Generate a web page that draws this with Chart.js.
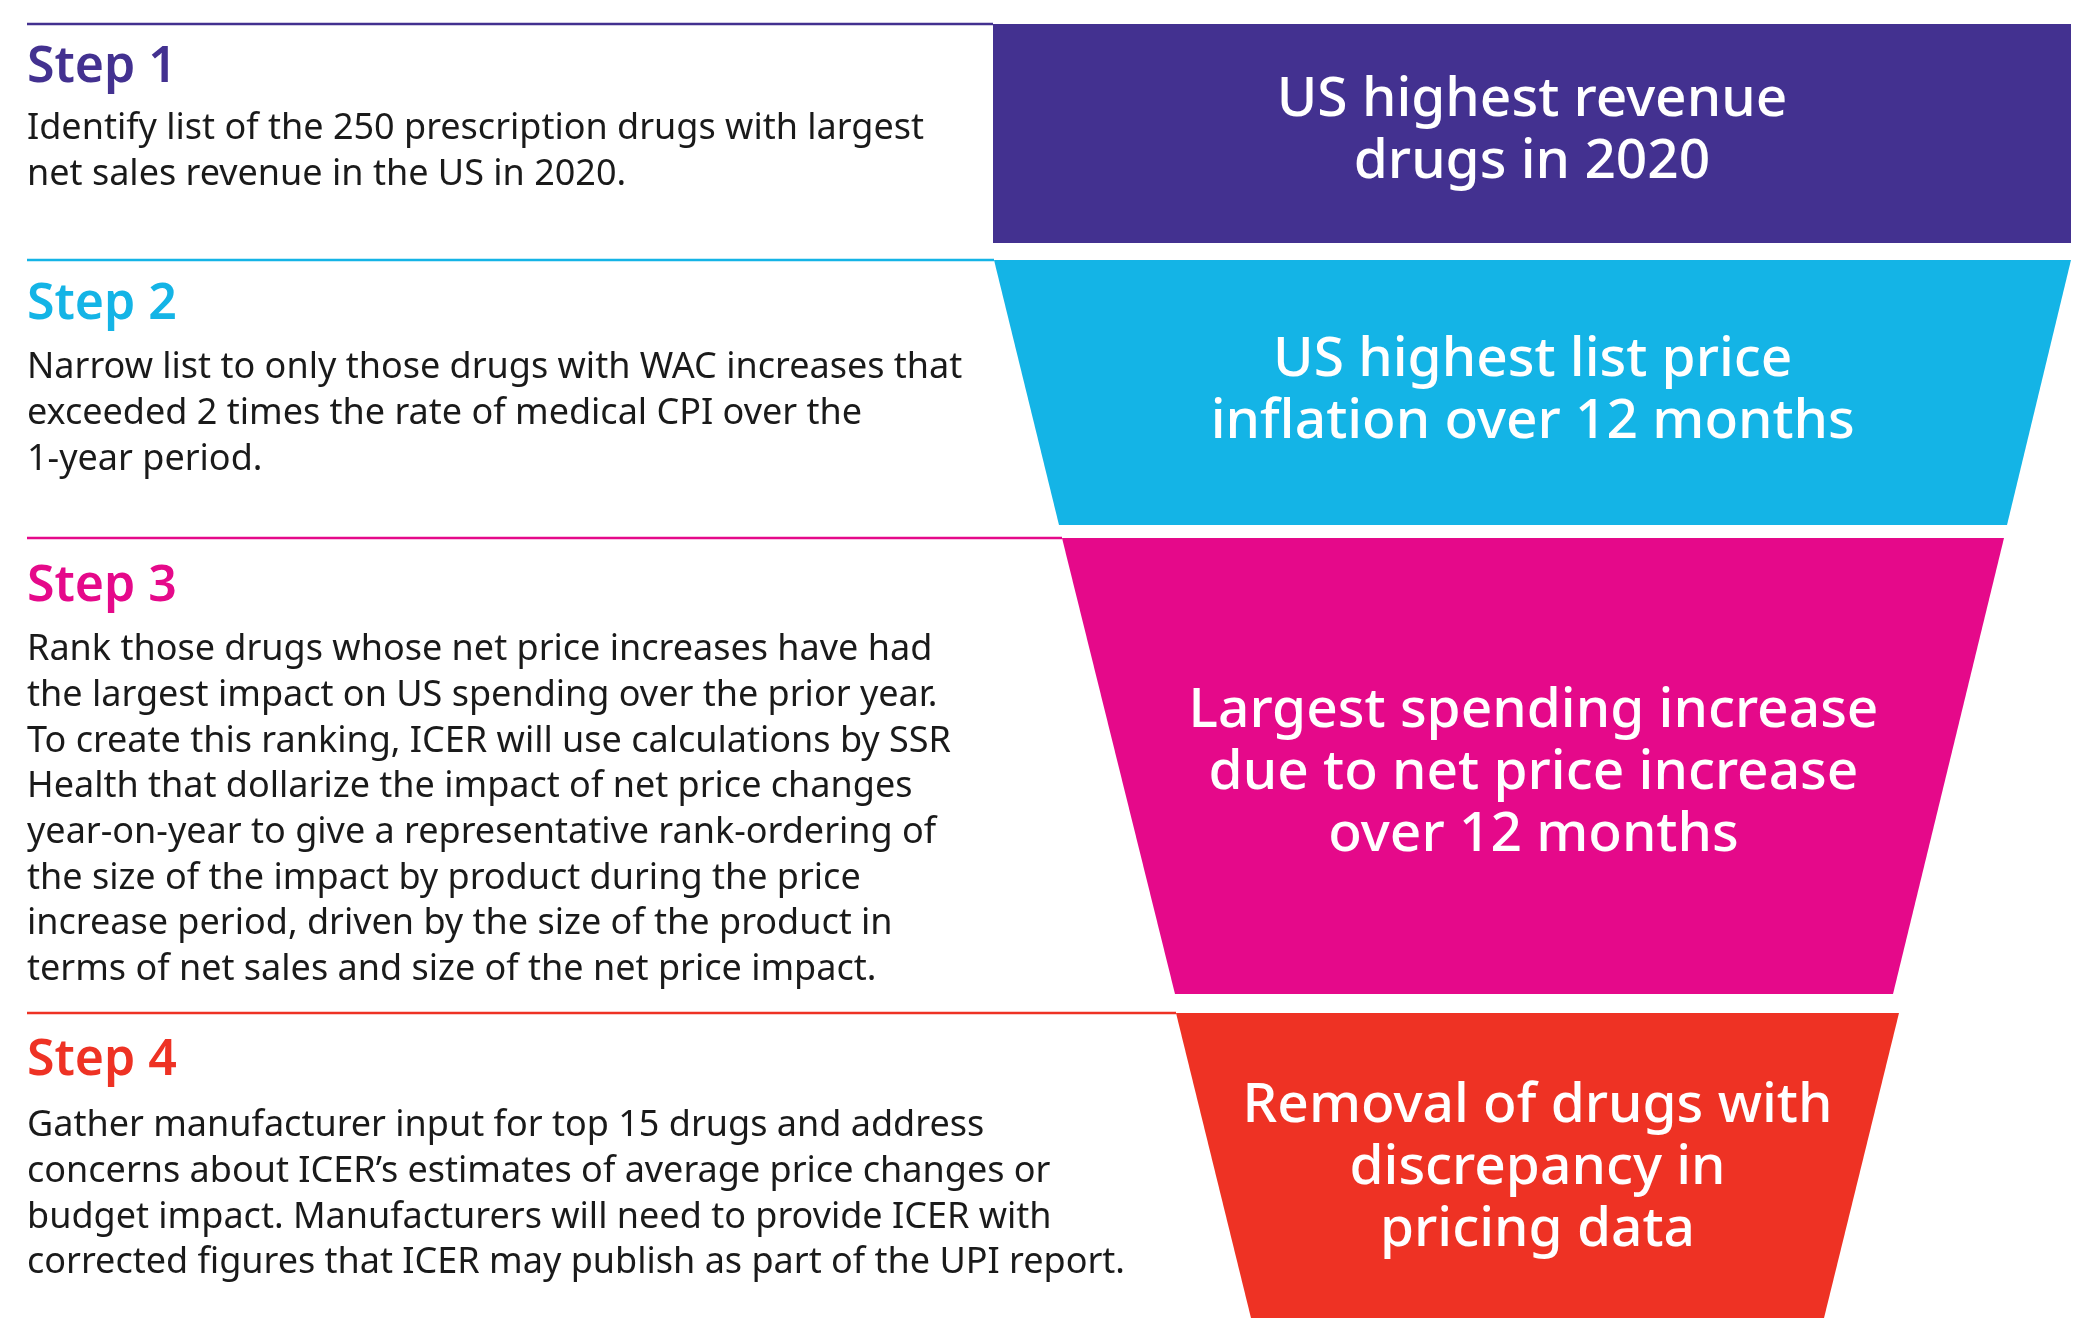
<!DOCTYPE html>
<html>
<head>
<meta charset="utf-8">
<script src="https://cdn.jsdelivr.net/npm/chart.js@4"></script>
<style>
  html, body { margin: 0; padding: 0; background: #fff; }
  #wrap { width: 2084px; height: 1342px; }
</style>
</head>
<body>
<div id="wrap"><canvas id="funnel"></canvas></div>
<script>
// funnel steps, in picture units (x 0-2084, y 0-1342 from top)
const stepNames = ['Step 1', 'Step 2', 'Step 3', 'Step 4'];
const stepColors = ['#433190', '#14b4e6', '#e5098a', '#ee3224'];
const stepTop = [24, 260, 538, 1013];
const stepBottom = [243, 525, 994, 1318];
const topLeft = [993, 994, 1062, 1176];
const topRight = [2071, 2071, 2004, 1899];
const bottomLeft = [993, 1059, 1175, 1251];
const bottomRight = [2071, 2007, 1893, 1824];

const funnelLabels = [
    ['US highest revenue', 'drugs in 2020'],
    ['US highest list price', 'inflation over 12 months'],
    ['Largest spending increase', 'due to net price increase', 'over 12 months'],
    ['Removal of drugs with', 'discrepancy in', 'pricing data']
];
const funnelTextY = [100, 360, 711, 1106];

const stepText = [
    ['Identify list of the 250 prescription drugs with largest',
     'net sales revenue in the US in 2020.'],
    ['Narrow list to only those drugs with WAC increases that',
     'exceeded 2 times the rate of medical CPI over the',
     '1-year period.'],
    ['Rank those drugs whose net price increases have had',
     'the largest impact on US spending over the prior year.',
     'To create this ranking, ICER will use calculations by SSR',
     'Health that dollarize the impact of net price changes',
     'year-on-year to give a representative rank-ordering of',
     'the size of the impact by product during the price',
     'increase period, driven by the size of the product in',
     'terms of net sales and size of the net price impact.'],
    ['Gather manufacturer input for top 15 drugs and address',
     'concerns about ICER\u2019s estimates of average price changes or',
     'budget impact. Manufacturers will need to provide ICER with',
     'corrected figures that ICER may publish as part of the UPI report.']
];
const headingY = [68, 305, 587, 1061];
const bodyY = [129, 368, 650, 1126];

const funnelPlugin = {
    id: 'funnel',
    afterDatasetsDraw(chart) {
        const ctx = chart.ctx;
        const xs = chart.scales.x, ys = chart.scales.y;
        const px = v => xs.getPixelForValue(v);
        const py = v => ys.getPixelForValue(v);
        ctx.save();
        for (let i = 0; i < stepNames.length; i++) {
            // separator line
            ctx.strokeStyle = stepColors[i];
            ctx.lineWidth = 2.5;
            ctx.beginPath();
            ctx.moveTo(px(27), py(stepTop[i]));
            ctx.lineTo(px(topLeft[i]), py(stepTop[i]));
            ctx.stroke();
            // trapezoid
            ctx.fillStyle = stepColors[i];
            ctx.beginPath();
            ctx.moveTo(px(topLeft[i]), py(stepTop[i]));
            ctx.lineTo(px(topRight[i]), py(stepTop[i]));
            ctx.lineTo(px(bottomRight[i]), py(stepBottom[i]));
            ctx.lineTo(px(bottomLeft[i]), py(stepBottom[i]));
            ctx.closePath();
            ctx.fill();
            // funnel text
            const cx = (topLeft[i] + topRight[i] + bottomLeft[i] + bottomRight[i]) / 4;
            ctx.fillStyle = '#fff';
            ctx.textAlign = 'center';
            ctx.textBaseline = 'middle';
            ctx.font = '500 55px "Noto Sans"';
            funnelLabels[i].forEach((t, j) => ctx.fillText(t, px(cx), py(funnelTextY[i] + j * 62)));
            // left heading and body
            ctx.textAlign = 'left';
            ctx.fillStyle = stepColors[i];
            ctx.font = '600 50px "Noto Sans"';
            ctx.fillText(stepNames[i], px(27), py(headingY[i]));
            ctx.fillStyle = '#1a1a1a';
            ctx.font = '36px "Noto Sans"';
            stepText[i].forEach((t, j) => ctx.fillText(t, px(27), py(bodyY[i] + j * 45.7)));
        }
        ctx.restore();
    }
};

new Chart(document.getElementById('funnel').getContext('2d'), {
    type: 'scatter',
    data: { datasets: [{ data: [], pointRadius: 0 }] },
    options: {
        responsive: true,
        maintainAspectRatio: false,
        animation: false,
        layout: { padding: 0 },
        plugins: { legend: { display: false }, tooltip: { enabled: false } },
        scales: {
            x: { type: 'linear', min: 0, max: 2084, display: false },
            y: { type: 'linear', min: 0, max: 1342, reverse: true, display: false }
        }
    },
    plugins: [funnelPlugin]
});
</script>
</body>
</html>
